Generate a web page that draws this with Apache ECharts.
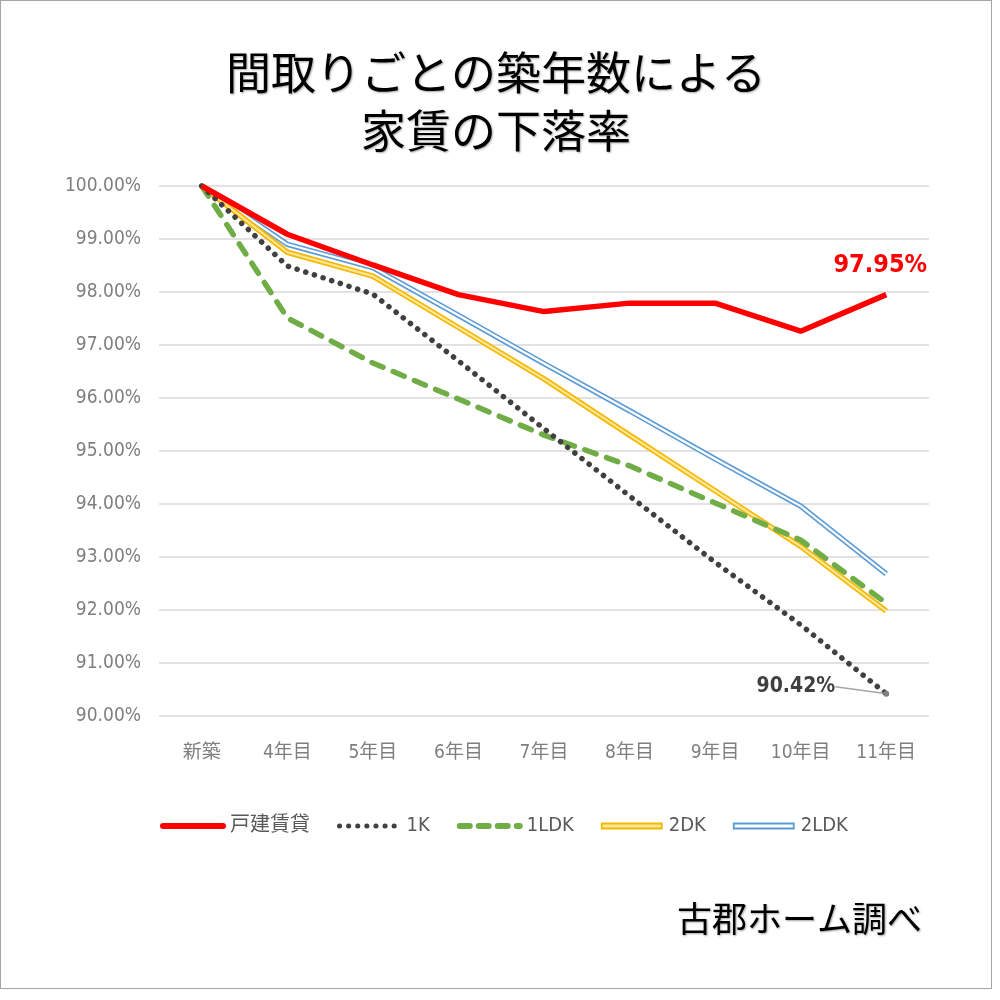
<!DOCTYPE html>
<html>
<head>
<meta charset="utf-8">
<script src="https://cdn.jsdelivr.net/npm/echarts@6/dist/echarts.min.js"></script>
<style>
  html, body { margin: 0; padding: 0; background: #fff; }
  #main { width: 992px; height: 989px; box-sizing: border-box; border: 1px solid #a6a6a6; background: #fff; }
</style>
</head>
<body>
<div id="main"></div>
<script>
// 築年数カテゴリ
let years = ['新築', '4年目', '5年目', '6年目', '7年目', '8年目', '9年目', '10年目', '11年目'];
// 下落率（%）
let kodate = [100, 99.09, 98.51, 97.95, 97.63, 97.79, 97.79, 97.26, 97.95];
let oneK = [100, 98.49, 97.96, 96.70, 95.42, 94.15, 92.90, 91.72, 90.42];
let oneLDK = [100, 97.51, 96.66, 95.98, 95.30, 94.72, 94.02, 93.32, 92.13];
let twoDK = [100, 98.75, 98.30, 97.33, 96.36, 95.30, 94.25, 93.20, 91.98];
let twoLDK = [100, 98.90, 98.46, 97.56, 96.65, 95.76, 94.85, 93.96, 92.68];

let numFont = "'Liberation Sans Narrow', 'DejaVu Sans Condensed', 'Noto Sans CJK JP', sans-serif";
let jpFont = "'Noto Sans CJK JP', sans-serif";

var dom = document.getElementById('main');
var myChart = echarts.init(dom);

// 最後の点だけラベルとマーカーを付ける
function lastLabel(arr, label, extra) {
  return arr.map((v, i) => {
    if (i !== arr.length - 1) return v;
    return Object.assign({ value: v, label: label }, extra || {});
  });
}

option = {
  animation: false,
  title: [
    {
      text: '間取りごとの築年数による\n家賃の下落率',
      left: 'center',
      top: 38,
      textStyle: {
        fontFamily: jpFont,
        fontSize: 45,
        fontWeight: 'normal',
        lineHeight: 58,
        color: '#000',
        textShadowColor: 'rgba(0,0,0,0.35)',
        textShadowBlur: 2,
        textShadowOffsetX: 1,
        textShadowOffsetY: 1
      }
    },
    {
      text: '古郡ホーム調べ',
      left: 671,
      top: 895,
      textStyle: {
        fontFamily: jpFont,
        fontSize: 35,
        fontWeight: 'normal',
        color: '#000',
        textShadowColor: 'rgba(0,0,0,0.35)',
        textShadowBlur: 2,
        textShadowOffsetX: 1,
        textShadowOffsetY: 1
      }
    }
  ],
  legend: {
    top: 810,
    left: 154,
    itemWidth: 60,
    itemHeight: 14,
    itemGap: 27,
    itemStyle: { opacity: 0 },
    textStyle: { fontFamily: numFont, fontSize: 20, color: '#595959', padding: [0, 0, 0, 2] },
    data: [
      { name: '戸建賃貸', lineStyle: { width: 6, cap: 'round' } },
      { name: '1K', lineStyle: { width: 5, type: [0.1, 9], cap: 'round' } },
      { name: '1LDK', lineStyle: { width: 6, type: [10, 9], cap: 'round' } },
      { name: '2DK', icon: 'path://M0,0 H60 V5 H0 Z', itemStyle: { opacity: 1, color: '#FFE699', borderColor: '#F5B800', borderWidth: 1.8 } },
      { name: '2LDK', icon: 'path://M0,0 H60 V5 H0 Z', itemStyle: { opacity: 1, color: '#fff', borderColor: '#5B9BD5', borderWidth: 1.8 } }
    ]
  },
  grid: { left: 158, top: 185, width: 770, height: 530 },
  xAxis: {
    type: 'category',
    data: years,
    boundaryGap: true,
    axisLine: { show: false },
    axisTick: { show: false },
    axisLabel: { margin: 28, fontFamily: numFont, fontSize: 19, color: '#7f7f7f' }
  },
  yAxis: {
    type: 'value',
    min: 90,
    max: 100,
    interval: 1,
    axisLine: { show: false },
    axisTick: { show: false },
    axisLabel: {
      margin: 18,
      fontFamily: numFont,
      fontSize: 19,
      color: '#7f7f7f',
      formatter: v => v.toFixed(2) + '%'
    },
    splitLine: { lineStyle: { color: '#d9d9d9', width: 1.5 } }
  },
  series: [
    {
      name: '2LDK',
      type: 'line',
      symbol: 'none',
      z: 2,
      color: '#5B9BD5',
      lineStyle: { color: '#5B9BD5', width: 5.5 },
      data: twoLDK
    },
    {
      name: '2LDK-inner',
      type: 'line',
      symbol: 'none',
      silent: true,
      z: 3,
      lineStyle: { color: '#fff', width: 2.2 },
      data: twoLDK
    },
    {
      name: '2DK',
      type: 'line',
      symbol: 'none',
      z: 4,
      color: '#F5B800',
      lineStyle: { color: '#F5B800', width: 5.5 },
      data: twoDK
    },
    {
      name: '2DK-inner',
      type: 'line',
      symbol: 'none',
      silent: true,
      z: 5,
      lineStyle: { color: '#FFE699', width: 2.2 },
      data: twoDK
    },
    {
      name: '1LDK',
      type: 'line',
      symbol: 'none',
      z: 6,
      color: '#70AD47',
      lineStyle: { color: '#70AD47', width: 5.5, type: [12, 11], cap: 'round' },
      data: oneLDK
    },
    {
      name: '1K',
      type: 'line',
      symbol: 'circle',
      symbolSize: 0,
      showSymbol: true,
      z: 7,
      color: '#404040',
      lineStyle: { color: '#404040', width: 5.5, type: [0.1, 9], cap: 'round' },
      labelLayout: p => (p.dataIndex === oneK.length - 1 ? { dx: -42, dy: -7 } : {}),
      data: lastLabel(oneK, {
        show: true,
        position: 'left',
        distance: 6,
        formatter: '{c}%',
        fontFamily: numFont,
        fontSize: 21,
        fontWeight: 'bold',
        color: '#404040'
      }, {
        symbolSize: 6,
        itemStyle: { color: '#808080' },
        labelLine: { show: true, lineStyle: { color: '#a6a6a6', width: 1.5 } }
      })
    },
    {
      name: '戸建賃貸',
      type: 'line',
      symbol: 'circle',
      symbolSize: 0,
      showSymbol: true,
      z: 8,
      color: '#FF0000',
      lineStyle: { color: '#FF0000', width: 5.5 },
      data: lastLabel(kodate, {
        show: true,
        position: 'top',
        distance: 8,
        offset: [-6, -9],
        formatter: '{c}%',
        fontFamily: numFont,
        fontSize: 25,
        fontWeight: 'bold',
        color: '#FF0000'
      })
    }
  ]
};

if (option && typeof option === "object") {
  myChart.setOption(option, true);
}
</script>
</body>
</html>
